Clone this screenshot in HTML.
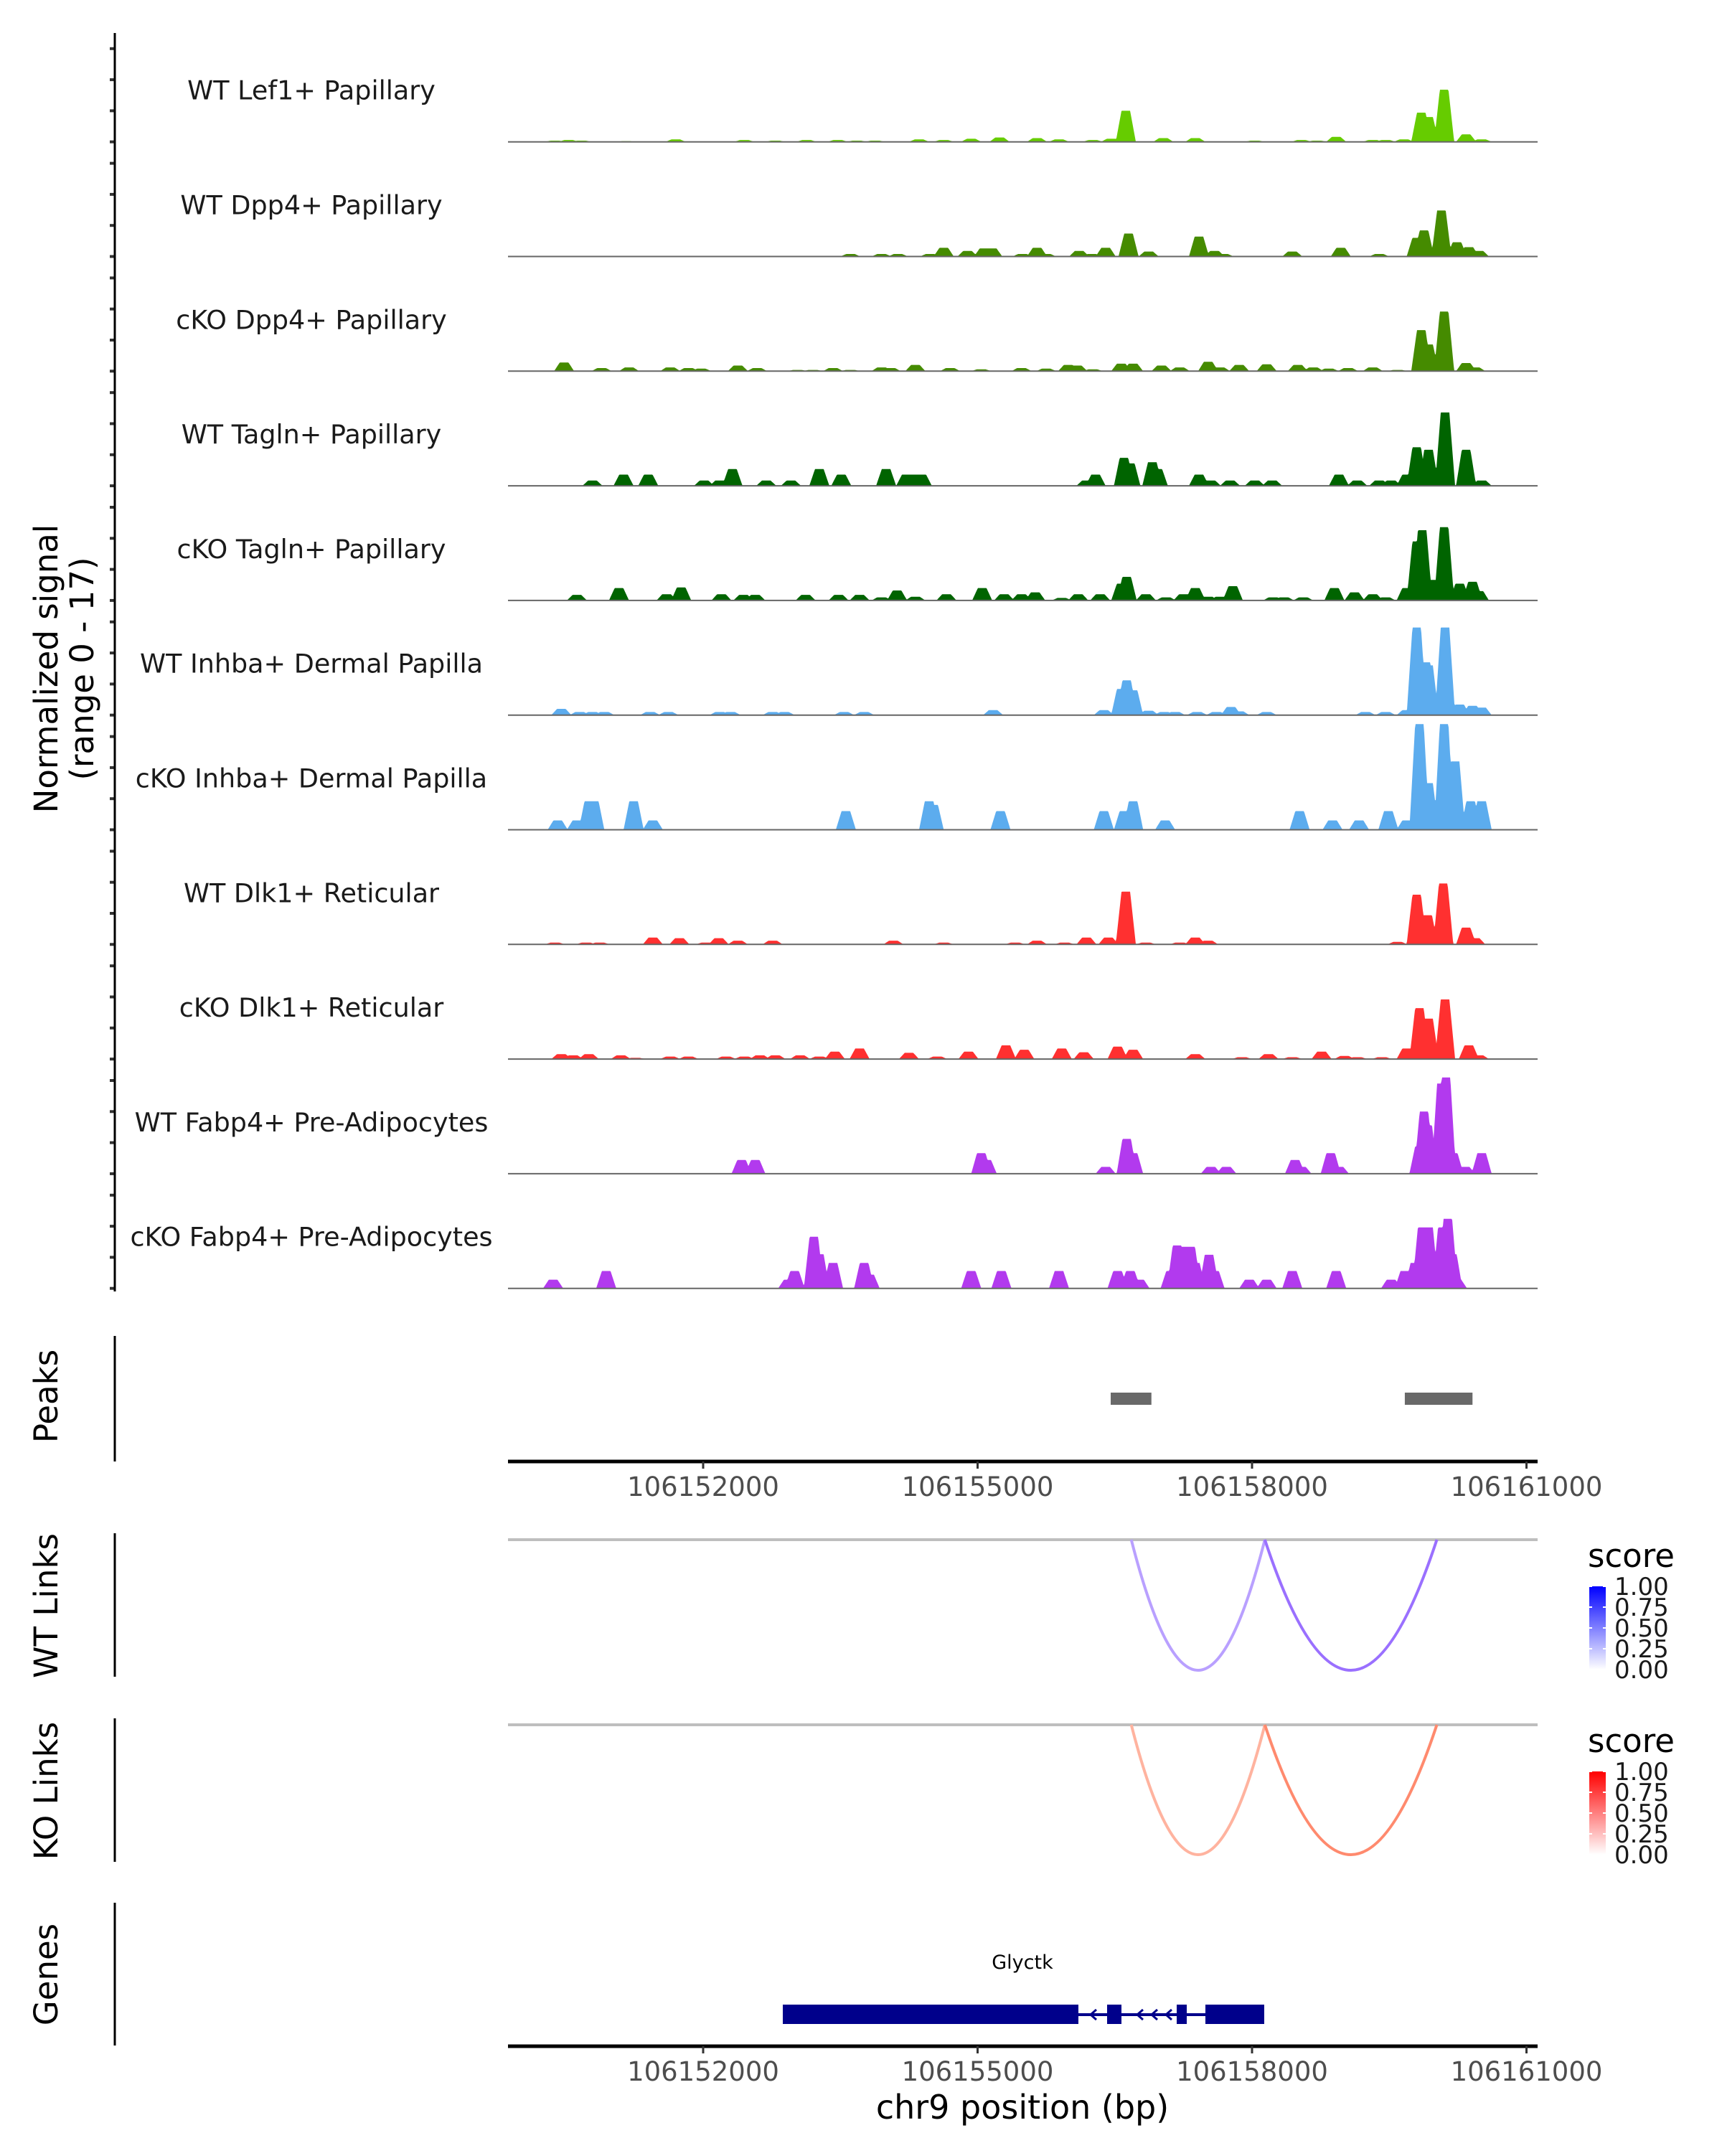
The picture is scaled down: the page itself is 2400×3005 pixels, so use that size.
<!DOCTYPE html>
<html><head><meta charset="utf-8"><style>
body{margin:0;background:#fff;}
svg text{font-family:"DejaVu Sans","Liberation Sans",sans-serif;}
</style></head><body>
<svg id="chart" width="2400" height="3000" viewBox="0 0 2400 3000" xmlns="http://www.w3.org/2000/svg">
<rect width="2400" height="3000" fill="#fff"/>
<g id="tracks"></g>
<g id="axes"></g>
</svg>
<script>
// genomic coordinates in kb relative to 106150000
const trackNames = ["WT Lef1+ Papillary","WT Dpp4+ Papillary","cKO Dpp4+ Papillary","WT Tagln+ Papillary","cKO Tagln+ Papillary","WT Inhba+ Dermal Papilla","cKO Inhba+ Dermal Papilla","WT Dlk1+ Reticular","cKO Dlk1+ Reticular","WT Fabp4+ Pre-Adipocytes","cKO Fabp4+ Pre-Adipocytes"];
const trackColors = ["#66cc00","#458b00","#458b00","#006400","#006400","#5cacee","#5cacee","#ff3030","#ff3030","#b23aee","#b23aee"];
const pos0 = [0.38,0.53,0.67,1.16,1.70,2.45,2.79,3.13,3.47,3.68,3.88,4.36,4.63,4.93,5.24,5.65,5.89,6.26,6.46,6.62,7.03,7.38,8.03,8.54,8.71,8.92,9.32,9.46,9.66,9.85,9.93,10.10,10.34,10.51];
const hgt0 = [0.2,0.3,0.2,0.1,0.4,0.3,0.2,0.3,0.3,0.2,0.2,0.4,0.3,0.5,0.7,0.6,0.4,0.3,0.5,5.0,0.6,0.6,0.2,0.3,0.2,0.8,0.3,0.3,0.4,4.7,4.0,8.4,1.2,0.4];
const pos1 = [3.61,3.95,4.13,4.48,4.63,4.89,5.07,5.16,5.49,5.65,5.75,6.11,6.25,6.40,6.65,6.87,7.42,7.59,7.69,8.44,8.97,9.39,9.80,9.88,10.07,10.24,10.37,10.48];
const hgt1 = [0.4,0.4,0.4,0.4,1.4,0.9,1.3,1.3,0.4,1.4,0.4,0.9,0.4,1.4,3.7,0.8,3.2,0.9,0.4,0.8,1.4,0.4,3.0,4.2,7.4,2.3,1.5,0.9];
const pos2 = [0.48,0.89,1.19,1.64,1.84,1.98,2.38,2.59,3.03,3.20,3.42,3.61,3.95,4.05,4.32,4.70,5.04,5.48,5.75,5.99,6.09,6.26,6.57,6.70,7.01,7.21,7.52,7.65,7.86,8.16,8.50,8.67,8.84,9.05,9.32,9.59,9.85,9.93,10.10,10.34,10.44];
const hgt2 = [1.4,0.5,0.6,0.6,0.5,0.4,0.9,0.5,0.2,0.2,0.5,0.2,0.6,0.5,1.0,0.5,0.3,0.5,0.4,1.0,0.9,0.3,1.2,1.2,0.9,0.6,1.5,0.6,1.0,1.1,1.0,0.6,0.4,0.5,0.6,0.2,6.6,4.3,9.6,1.3,0.6];
const pos3 = [0.79,1.13,1.40,2.01,2.18,2.32,2.69,2.96,3.27,3.51,4.00,4.22,4.32,4.39,6.19,6.29,6.60,6.67,6.91,6.97,7.42,7.55,7.76,8.03,8.22,8.95,9.15,9.39,9.52,9.69,9.80,9.93,10.11,10.34,10.51];
const hgt3 = [0.85,1.8,1.8,0.85,0.85,2.7,0.85,0.85,2.7,1.8,2.7,1.8,1.8,1.8,0.85,1.8,4.5,3.6,3.8,2.7,1.8,0.85,0.85,0.85,0.85,1.8,0.85,0.85,0.85,1.8,6.2,5.8,11.8,5.8,0.85];
const pos4 = [0.62,1.08,1.60,1.76,2.20,2.44,2.57,3.12,3.48,3.71,3.95,4.12,4.32,4.66,5.05,5.29,5.48,5.63,5.92,6.10,6.34,6.57,6.63,6.84,7.06,7.25,7.38,7.52,7.65,7.79,8.23,8.35,8.56,8.90,9.12,9.32,9.46,9.69,9.80,9.86,9.97,10.10,10.27,10.41,10.48];
const hgt4 = [0.9,2.0,1.0,2.1,1.0,0.9,0.9,0.9,0.9,0.9,0.5,1.6,0.6,1.0,2.0,1.0,1.0,1.3,0.4,1.0,1.0,2.7,3.8,1.0,0.5,1.0,2.0,0.6,0.6,2.3,0.5,0.5,0.5,2.0,1.3,1.0,0.5,2.0,9.5,11.3,3.3,11.8,2.7,3.0,1.5];
const pos5 = [0.45,0.65,0.79,0.92,1.42,1.62,2.18,2.30,2.76,2.89,3.54,3.76,5.17,6.38,6.57,6.63,6.70,6.87,7.04,7.16,7.40,7.61,7.77,7.86,8.16,9.24,9.46,9.69,9.80,9.90,9.93,10.11,10.27,10.41,10.51];
const hgt5 = [1.0,0.5,0.5,0.5,0.5,0.5,0.5,0.5,0.5,0.5,0.5,0.5,0.8,0.8,4.2,5.6,4.0,0.7,0.5,0.5,0.5,0.5,1.3,0.6,0.5,0.5,0.5,0.8,14.1,8.5,8.0,14.1,1.7,1.5,1.2];
const pos6 = [0.41,0.62,0.75,0.81,1.24,1.45,3.56,4.47,4.52,5.25,6.38,6.60,6.70,7.05,8.52,8.88,9.17,9.49,9.69,9.83,9.93,10.10,10.22,10.39,10.51];
const hgt6 = [1.5,1.5,4.6,4.6,4.6,1.5,3.0,4.6,4.0,3.0,3.0,3.0,4.6,1.5,3.0,1.5,1.5,3.0,1.5,17,7.5,17,11,4.6,4.6];
const pos7 = [0.38,0.72,0.87,1.45,1.74,2.03,2.17,2.38,2.76,4.08,4.63,5.41,5.65,5.95,6.19,6.43,6.62,6.84,7.21,7.38,7.52,9.59,9.80,9.92,10.09,10.34,10.44];
const hgt7 = [0.3,0.3,0.3,1.1,1.0,0.3,1.0,0.6,0.6,0.6,0.3,0.3,0.6,0.3,1.1,1.1,8.5,0.3,0.3,1.1,0.6,0.4,8.0,4.7,9.8,2.7,1.0];
const pos8 = [0.45,0.58,0.75,1.10,1.26,1.64,1.84,2.25,2.45,2.62,2.79,3.06,3.27,3.44,3.71,4.25,4.56,4.90,5.31,5.51,5.92,6.16,6.53,6.70,7.38,7.89,8.18,8.44,8.76,9.01,9.15,9.42,9.69,9.83,9.93,10.11,10.37,10.48];
const hgt8 = [0.8,0.6,0.8,0.6,0.2,0.4,0.4,0.4,0.4,0.6,0.6,0.6,0.4,1.2,1.7,1.0,0.4,1.2,2.2,1.5,1.7,1.1,2.0,1.5,0.8,0.3,0.8,0.3,1.2,0.5,0.3,0.3,1.7,8.2,6.5,9.6,2.2,0.6];
const pos9 = [2.42,2.57,5.04,5.10,6.40,6.63,6.70,7.55,7.72,8.47,8.54,8.86,8.95,9.83,9.88,9.92,10.07,10.12,10.20,10.33,10.51];
const hgt9 = [2.2,2.2,3.3,2.2,1.1,5.6,3.3,1.1,1.1,2.2,1.1,3.3,1.1,4.4,10.0,7.8,14.5,15.5,3.3,1.1,3.3];
const pos10 = [0.36,0.94,2.93,3.00,3.21,3.27,3.42,3.76,3.82,4.93,5.26,5.89,6.53,6.67,6.77,7.11,7.18,7.25,7.33,7.38,7.53,7.59,7.97,8.16,8.44,8.92,9.52,9.67,9.78,9.86,9.93,10.00,10.08,10.14,10.19,10.24];
const hgt10 = [1.4,2.8,1.4,2.8,8.3,5.5,4.1,4.1,2.2,2.8,2.8,2.8,2.8,2.8,1.4,2.8,6.9,6.7,6.7,4.1,5.4,2.8,1.4,1.4,2.8,2.8,1.4,2.8,4.1,9.8,9.8,2.8,9.8,11.2,5.5,1.4];
const trackPos = [pos0,pos1,pos2,pos3,pos4,pos5,pos6,pos7,pos8,pos9,pos10];
const trackHgt = [hgt0,hgt1,hgt2,hgt3,hgt4,hgt5,hgt6,hgt7,hgt8,hgt9,hgt10];
const peakStart = [6.455, 9.67];
const peakEnd = [6.90, 10.41];
const linkStart = [6.68, 6.68];
const linkEnd = [8.14, 8.14];
const linkEnd2 = [10.02, 10.02];
const xTicks = [2, 5, 8, 11];
const xTickLabels = ["106152000","106155000","106158000","106161000"];
const legendTicks = [1.00,0.75,0.50,0.25,0.00];

const NS="http://www.w3.org/2000/svg";
const X0=708, X1=2143;
function xs(k){return 980+(k-2)*127.5;}
const unitPx=8.66, base0=197.7, trackStep=159.8;
function mk(tag,attrs,parent){const e=document.createElementNS(NS,tag);for(const k in attrs)e.setAttribute(k,attrs[k]);parent.appendChild(e);return e;}
const tg=document.getElementById('tracks');
const ax=document.getElementById('axes');

trackNames.forEach((nm,i)=>{
  const by=base0+i*trackStep;
  const g=mk('g',{},tg);
  
  
  const P=trackPos[i],H=trackHgt[i];
  let d='M'+X0+','+by;
  const hw=14, top=6;
  for(let x=X0;x<=X1;x+=1){
    let v=0;
    for(let j=0;j<P.length;j++){
      const dx=Math.abs(x-xs(P[j]));
      if(dx<hw){const f=dx<=top?1:(hw-dx)/(hw-top);v=Math.max(v,H[j]*f);}
    }
    v=Math.min(v,17);
    d+=' L'+x+','+(by-v*unitPx).toFixed(1);
  }
  d+=' L'+X1+','+by+' Z';
  const p=mk('path',{d:d,fill:trackColors[i]},g);
  
  
  const bl=mk('line',{x1:X0,x2:X1,y1:by,y2:by,stroke:'#666','stroke-width':2},g);
  
  
  const t=mk('text',{x:434,y:by-59,'font-size':36.5,'text-anchor':'middle',fill:'#1a1a1a'},g);
  t.textContent=nm;
  
  
  for(let k=0;k<4;k++){
    const ty=by-k*5*unitPx;
    mk('line',{x1:153,x2:160,y1:ty,y2:ty,stroke:'#333','stroke-width':4},ax);
  }
});
// left axes
[[46,1800],[1862,2037],[2137,2337],[2395,2595],[2652,2851]].forEach(r=>{
  const l=mk('line',{x1:160,x2:160,y1:r[0],y2:r[1],stroke:'#000','stroke-width':3},ax);
  
  
});
function rotText(txt,x,y,size,name){
  const t=mk('text',{x:x,y:y,'font-size':size,'text-anchor':'middle',transform:'rotate(-90 '+x+' '+y+')',fill:'#000'},ax);
  t.textContent=txt;
  
  
}
rotText('Normalized signal',80,932,45,'y-axis-title');
rotText('(range 0 - 17)',130,932,45,'y-axis-range');
rotText('Peaks',80,1946,45,'peaks-title');
rotText('WT Links',80,2238,45,'wt-links-title');
rotText('KO Links',80,2496,45,'ko-links-title');
rotText('Genes',80,2752,45,'genes-title');
// peaks
peakStart.forEach((s,i)=>{
  const r=mk('rect',{x:xs(s),y:1941,width:xs(peakEnd[i])-xs(s),height:17,fill:'#696969'},ax);
  
  
});
// x axes
function xAxis(y,name){
  const l=mk('line',{x1:X0,x2:X1,y1:y,y2:y,stroke:'#000','stroke-width':5},ax);
  
  
  xTicks.forEach((k,i)=>{
    mk('line',{x1:xs(k),x2:xs(k),y1:y,y2:y+10,stroke:'#333','stroke-width':3},ax);
    const t=mk('text',{x:xs(k),y:y+48,'font-size':37,'text-anchor':'middle',fill:'#4d4d4d'},ax);
    t.textContent=xTickLabels[i];
    
    
  });
}
xAxis(2037,'x-axis-peaks');
xAxis(2852,'x-axis-genes');
const xt=mk('text',{x:1425,y:2953,'font-size':46,'text-anchor':'middle',fill:'#000'},ax);
xt.textContent='chr9 position (bp)';


// links
function links(lineY,bottomY,c1,c2,gradId,top,name){
  const l=mk('line',{x1:X0,x2:X1,y1:lineY,y2:lineY,stroke:'#bebebe','stroke-width':4},ax);
  
  
  const cy=2*bottomY-lineY;
  [[linkStart[0],linkEnd[0],c1],[linkEnd[1],linkEnd2[1],c2]].forEach(a=>{
    const x1=xs(a[0]),x2=xs(a[1]);
    const p=mk('path',{d:'M'+x1+','+lineY+' Q'+((x1+x2)/2)+','+cy+' '+x2+','+lineY,fill:'none',stroke:a[2],'stroke-width':4},ax);
    
    
  });
  const s=mk('text',{x:2213,y:lineY+38,'font-size':45,fill:'#000'},ax);
  s.textContent='score';
  
  
  const defs=mk('defs',{},ax);
  const lg=mk('linearGradient',{id:gradId,x1:0,y1:0,x2:0,y2:1},defs);
  mk('stop',{offset:0,'stop-color':top},lg);
  mk('stop',{offset:1,'stop-color':'#ffffff'},lg);
  const by0=lineY+65;
  const cb=mk('rect',{x:2215,y:by0,width:23,height:116,fill:'url(#'+gradId+')'},ax);
  
  
  legendTicks.forEach((v,i)=>{
    const ty=by0+(1-v)*116;
    mk('line',{x1:2215,x2:2219,y1:ty,y2:ty,stroke:'#fff','stroke-width':2},ax);
    mk('line',{x1:2234,x2:2238,y1:ty,y2:ty,stroke:'#fff','stroke-width':2},ax);
    const t=mk('text',{x:2250,y:ty+12,'font-size':34,fill:'#1a1a1a'},ax);
    t.textContent=v.toFixed(2);
    
    
  });
}
links(2146,2328,'#b9a0ff','#9a70ff','gwt','#0000ff','wt-links');
links(2404,2585,'#ffb39f','#ff8a6e','gko','#ff0000','ko-links');
// gene
const gg=mk('g',{},ax);


const gc='#00008b';
mk('line',{x1:1091,x2:1762,y1:2808,y2:2808,stroke:gc,'stroke-width':4},gg);
mk('rect',{x:1091,y:2794,width:412,height:27,fill:gc},gg);
mk('rect',{x:1543,y:2794,width:20,height:27,fill:gc},gg);
mk('rect',{x:1640,y:2794,width:14,height:27,fill:gc},gg);
mk('rect',{x:1680,y:2794,width:82,height:27,fill:gc},gg);
[1520,1585,1605,1625].forEach(x=>{
  mk('path',{d:'M'+(x+8)+',2801 L'+x+',2808 L'+(x+8)+',2815',fill:'none',stroke:gc,'stroke-width':3},gg);
});
const gl=mk('text',{x:1425,y:2744,'font-size':27,'text-anchor':'middle',fill:'#000'},gg);
gl.textContent='Glyctk';


</script>
</body></html>
